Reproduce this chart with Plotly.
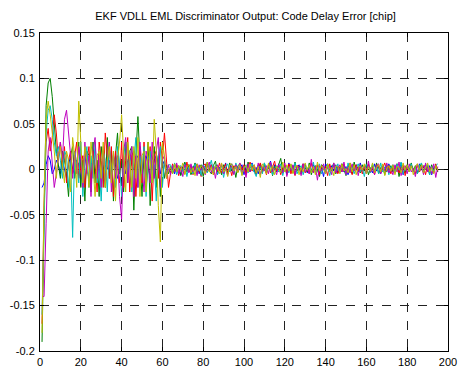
import plotly.graph_objects as go

# Discriminator output in units of 1e-3 chip; epochs start at 1
blue_early = [-20, -15, 5, 15, 10, -5, 0, 10, 5, -5,
              10, 0, -10, 5, 15, 0, -5, 10, 5, -10,
              5, 15, 0, -10, 5, 10, -5, 0, 15, 5,
              -10, 5, 0, 10, -5, 15, 5, -10, 0, 10,
              5, -5, 10, 15, 5, 0, 10, 15, 5, -5,
              10, 15, 5, -10, 0, 10, 15, 5, -5, 10,
              5, -5, 0]
blue_late = [-3, 2, -5, 4, 1, -6, 3, 7, -2, 5, -4, 3, -1, 6, -5, 2, 4, -3, 8, -2,
             5, -4, 3, -6, 2, 4, -1, 7, -5, 3, 6, -2, 4, -3, 1, 5, -6, 3, -2, 4,
             7, -3, 2, -5, 6, -1, 4, -4, 3, 9, -2, 5, -3, 6, -4, 1, 3, -5, 7, -2,
             4, -6, 2, 5, -3, 1, 6, -4, 3, -2, 5, -1, 4, -5, 2, -8, 6, 3, -3, 4,
             -2, 5, -4, 1, 6, -3, 3, -6, 2, 4, -1, 5, -3, 7, -2, 3, -5, 4, 1, -4,
             6, -2, 3, -5, 4, 2, -3, 6, -1, 5, -4, 3, -2, 7, -6, 1, 4, -3, 5, -2,
             3, -4, 6, -1, 2, 5, -3, 4, -6, 2, 3, -2]

green_early = [-190, -60, 70, 95, 100, 80, 50, 20, 5, -10,
               20, 10, -5, -30, 15, 25, -10, 5, 30, -20,
               10, -35, 20, 15, -25, 30, -15, 10, -30, 25,
               5, -20, 35, -10, 20, -35, 15, 40, -5, 10,
               -25, 30, -15, 20, 25, -45, 15, 58, 10, -30,
               20, -15, 30, -40, 10, 25, -20, 15, -30, 10,
               -10, 5, -5]
green_late = [3, -5, 6, -2, 4, -7, 1, 8, -3, 5, -6, 2, 7, -4, 0, 5, -8, 3, 6, -2,
              -5, 4, 9, -3, 2, -6, 5, 1, -4, 7, -2, 3, -9, 4, 6, -1, 2, -5, 8, -3,
              4, 0, -6, 5, 3, -4, 7, -2, 1, 6, -7, 3, -1, 5, 12, -3, 4, -6, 2, 5,
              -4, 8, -2, 3, -5, 6, 1, -3, 7, -6, 2, 4, -1, -8, 5, 3, -4, 6, -2, 1,
              7, -5, 3, -3, 6, 0, -7, 4, 2, -5, 8, -1, 3, -4, 5, -2, 6, -6, 1, 4,
              -3, 7, -5, 2, 3, -6, 5, -1, 4, -3, 2, 6, -8, 3, 1, -4, 5, -2, 7, -3,
              4, -5, 2, 6, -4, 1, 3, -6, 5, -2, 4, -3]

red_early = [-170, -40, 30, 45, 20, 35, 60, 40, 10, 30,
             0, 25, -15, 10, 20, -5, 15, 30, -10, 5,
             15, -20, 10, 25, -15, 20, 5, -25, 30, 10,
             -20, 40, 15, -10, 25, -30, 20, 5, -15, 30,
             -20, 10, 35, -25, 15, 20, -30, 10, 25, -15,
             30, -20, 5, 25, -35, 15, 20, -10, 30, 10,
             40, 10, -20]
red_late = [-4, 6, -2, 5, -7, 3, 1, -5, 8, -3, 4, -6, 2, 5, -1, -8, 4, 6, -3, 2,
            5, -6, 3, -2, 7, -4, 1, 6, -5, 3, -7, 4, 2, -3, 6, -1, 5, -6, 3, 8,
            -2, 4, -5, 1, 7, -3, 2, -6, 5, -4, 3, 9, -2, 4, -6, 1, 5, -3, 6, -5,
            2, -7, 4, 3, -2, 6, -4, 1, -5, 7, -3, 2, 5, -6, 4, -1, 3, -7, 6, -2,
            4, 1, -5, 3, -3, 6, -4, 2, 7, -6, 1, 5, -2, 3, -5, 4, -1, 6, -3, 2,
            -6, 5, 3, -4, 1, 7, -2, 4, -5, 3, -1, 6, -4, 2, 5, -7, 3, -2, 4, 1,
            -5, 6, -3, 2, 4, -6, 5, -1, 3, -4, 6, -2]

cyan_early = [-160, -50, 40, 65, 70, 55, 30, 15, 25, 10,
              -10, 20, 15, -20, 10, -75, 20, 5, -15, 30,
              -30, 10, 25, -20, 15, -10, 30, -15, 5, -35,
              20, 10, -25, 30, -10, 15, -20, 25, 5, -30,
              15, 30, -10, 20, -25, 10, 35, -20, 15, -5,
              25, -30, 10, 20, -15, 5, -35, 15, 25, -20,
              10, -5, 5]
cyan_late = [5, -3, 7, -6, 2, 4, -2, 6, -8, 3, 1, -5, 6, -2, 4, -7, 5, 2, -4, 3,
             10, -3, 5, -6, 1, 4, -9, 2, 6, -3, 4, -5, 7, -1, 3, -6, 2, 5, -4, 1,
             6, -3, -8, 4, 2, -5, 7, -2, 3, 5, -6, 1, 4, -3, 6, -7, 2, 3, -4, 5,
             -2, 7, -5, 1, 4, -6, 3, -1, 5, -3, 8, -4, 2, 6, -5, 3, -2, 4, -7, 1,
             5, -3, 6, -4, 2, 3, -6, 7, -1, 4, -5, 2, 6, -3, 1, -8, 5, 3, -4, 6,
             -2, 4, -5, 7, -3, 1, 5, -6, 3, 2, -4, 6, -1, 8, -5, 3, 4, -2, 6, -3,
             2, -5, 4, 7, -3, 1, 5, -6, 3, -2, 4, 6]

magenta_early = [-140, -140, -60, 20, 35, 10, -20, -5, 15, 30,
                 10, 55, 65, 40, 10, -10, 20, -5, 25, 10,
                 -20, 30, -5, 15, -30, 20, 35, -10, 15, -20,
                 25, -15, 10, 30, -25, 20, -10, 15, -30, -55,
                 20, 35, -15, 10, 25, -30, 15, -20, 30, 5,
                 -25, 20, 10, -15, 30, -10, 20, 35, -20, 10,
                 15, -10, 5]
magenta_late = [-6, 4, -3, 7, -5, 2, -8, 5, 1, -4, 6, -3, 3, -7, 5, -1, 4, -6, 2, 8,
                -4, 3, -10, 5, -2, 6, -5, 1, -7, 4, 3, -6, 5, -2, 7, -4, 1, -9, 6, -3,
                2, 5, -4, 7, -6, 3, -2, 4, -5, 8, -3, 1, -6, 5, 2, -4, 7, -8, 3, -1,
                5, -6, 4, 2, -7, 6, -3, 1, -5, 11, -4, 3, -12, 4, -2, 6, -5, 2, 3, -6,
                7, -4, 1, 5, -3, 8, -6, 2, -4, 6, -2, 3, -7, 5, -1, 4, -5, 9, -3, 2,
                -6, 4, 6, -5, 3, -2, 7, -4, 1, -6, 5, -3, 8, -7, 2, 4, -5, 6, -3, 1,
                -8, 5, -2, 4, -6, 7, -3, 2, -5, 6, -9, 3]

yellow_early = [-180, -30, 55, 75, 60, 40, 20, -10, 15, 25,
                5, -15, 20, 10, -25, 35, 15, -20, 75, 20,
                -15, 25, 10, -20, 30, 5, -30, 15, 20, -10,
                30, -20, 10, 25, -15, 20, -35, 10, 30, 60,
                15, -25, 30, 10, -20, 25, -10, 35, -30, 15,
                20, -25, 30, 10, -15, 55, 20, -40, -80, 30,
                15, -10, 0]
yellow_late = [2, -5, 6, -3, 4, -1, 7, -6, 3, 5, -4, 2, -7, 6, -2, 4, 1, -5, 8, -3,
               3, -6, 4, 2, -5, 7, -3, 1, -8, 5, 6, -2, 3, -4, 5, -7, 2, 4, -3, 6,
               -1, 5, -4, 3, -9, 6, 2, -5, 7, -2, 4, -6, 3, 1, -4, 8, -3, 5, -2, 6,
               -5, 3, 4, -6, 2, -3, 7, -1, 5, -4, 3, -6, 8, -2, 4, 1, -5, 6, -3, 2,
               -7, 4, 3, -5, 6, -2, 1, -4, 7, -3, 5, -6, 2, 4, -1, 6, -5, 3, -2, 7,
               -4, 2, 5, -3, 6, -7, 1, 4, -2, 5, -6, 3, 2, -4, 7, -1, 5, -3, 4, -6,
               3, 6, -2, 5, -4, 1, 7, -3, 2, -5, 4, -1]

x_ticks = [0, 20, 40, 60, 80, 100, 120, 140, 160, 180, 200]
y_ticks = [-0.2, -0.15, -0.1, -0.05, 0, 0.05, 0.1, 0.15]
y_tick_text = ["-0.2", "-0.15", "-0.1", "-0.05", "0", "0.05", "0.1", "0.15"]

series = [
    (blue_early + blue_late, "#0000ff"),
    (green_early + green_late, "#008000"),
    (red_early + red_late, "#ff0000"),
    (cyan_early + cyan_late, "#00bfbf"),
    (magenta_early + magenta_late, "#bf00bf"),
    (yellow_early + yellow_late, "#bfbf00"),
]

fig = go.Figure()
for vals, col in series:
    fig.add_trace(go.Scatter(
        x=list(range(1, len(vals) + 1)),
        y=[v / 1000 for v in vals],
        mode="lines", line=dict(color=col, width=1), showlegend=False,
        hoverinfo="skip"))

font = dict(family="Liberation Sans, Arial, sans-serif", size=11, color="black")
axis_common = dict(
    showline=True, linecolor="black", linewidth=1, mirror="ticks",
    ticks="inside", ticklen=4, tickcolor="black",
    showgrid=True, gridcolor="#222222", gridwidth=1, griddash="dash",
    zeroline=False, tickfont=font, automargin=False,
)
fig.update_layout(
    width=459, height=369,
    margin=dict(l=40, r=11, t=33, b=18, autoexpand=False),
    paper_bgcolor="white", plot_bgcolor="white",
    title=dict(text="EKF VDLL EML Discriminator Output: Code Delay Error [chip]",
               x=0.535, xanchor="center", y=0.955, yanchor="middle", font=font,
               automargin=False),
    xaxis=dict(range=[0, 200], tickvals=x_ticks, ticklabelstandoff=1, **axis_common),
    yaxis=dict(range=[-0.2, 0.15], tickvals=y_ticks, ticktext=y_tick_text, ticklabelstandoff=2,
               **axis_common),
)
fig.write_html("out.html")
